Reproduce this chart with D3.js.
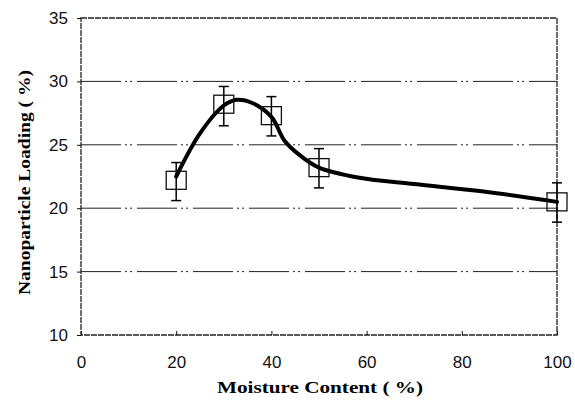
<!DOCTYPE html>
<html>
<head>
<meta charset="utf-8">
<script src="https://cdn.jsdelivr.net/npm/d3@7"></script>
<style>
body { margin: 0; background: #fff; }
</style>
</head>
<body>
<script>
var width = 575;
var height = 402;

// measured points with error bars
var moisture = [20, 30, 40, 50, 100];
var loading = [22.2, 28.2, 27.3, 23.2, 20.5];
var errLow = [20.6, 26.5, 25.7, 21.6, 18.9];
var errHigh = [23.6, 29.6, 28.8, 24.7, 22.0];

// smoothed curve
var curveX = [20, 25, 30, 32.7, 36, 40, 42.8, 45.9, 50, 58.5, 70, 85, 100];
var curveY = [22.5, 25.9, 28.1, 28.55, 28.3, 27.2, 25.3, 24.2, 23.2, 22.4, 21.9, 21.3, 20.5];

var xTicks = [0, 20, 40, 60, 80, 100];
var yTicks = [10, 15, 20, 25, 30, 35];

var margin = {left: 81, right: 18, top: 18, bottom: 67};

var x = d3.scaleLinear().domain([0, 100]).range([margin.left, width - margin.right]);
var y = d3.scaleLinear().domain([10, 35]).range([height - margin.bottom, margin.top]);

var svg = d3.select("body").append("svg")
    .attr("width", width)
    .attr("height", height);

// gridlines (dash-dot, scanned look)
svg.append("g").selectAll("line")
    .data(yTicks.slice(1, -1))
    .enter().append("line")
    .attr("x1", x(0)).attr("x2", x(100))
    .attr("y1", d => y(d)).attr("y2", d => y(d))
    .attr("stroke", "#222")
    .attr("stroke-width", 1)
    .attr("stroke-dasharray", "40,4,2,3,2,5");

// frame
svg.append("rect")
    .attr("x", x(0)).attr("y", y(35))
    .attr("width", x(100) - x(0)).attr("height", y(10) - y(35))
    .attr("fill", "none")
    .attr("stroke", "#222")
    .attr("stroke-width", 1.3)
    .attr("stroke-dasharray", "6,1");

var xAxis = d3.axisBottom(x).tickValues(xTicks).tickSize(4).tickSizeOuter(0);
var yAxis = d3.axisLeft(y).tickValues(yTicks).tickSize(4).tickSizeOuter(0);

var gx = svg.append("g")
    .attr("transform", "translate(0," + y(10) + ")")
    .call(xAxis);
gx.select(".domain").remove();
gx.selectAll("line").attr("stroke", "#111").attr("y1", -4).attr("y2", 0);
gx.selectAll("text")
    .attr("font-family", "Liberation Sans, Arial, sans-serif")
    .attr("font-size", 17)
    .attr("fill", "#111")
    .attr("y", 33)
    .attr("dy", null);

var gy = svg.append("g")
    .attr("transform", "translate(" + x(0) + ",0)")
    .call(yAxis);
gy.select(".domain").remove();
gy.selectAll("line").attr("stroke", "#111");
gy.selectAll("text")
    .attr("font-family", "Liberation Sans, Arial, sans-serif")
    .attr("font-size", 17)
    .attr("fill", "#111")
    .attr("x", -13);

// smooth curve
var line = d3.line()
    .x(d => x(d[0]))
    .y(d => y(d[1]))
    .curve(d3.curveCatmullRom.alpha(0.5));

svg.append("path")
    .datum(d3.zip(curveX, curveY))
    .attr("d", line)
    .attr("fill", "none")
    .attr("stroke", "#000")
    .attr("stroke-width", 4)
    .attr("stroke-linecap", "round");

// error bars
var pts = moisture.map(function(m, i) {
    return {x: m, y: loading[i], lo: errLow[i], hi: errHigh[i]};
});

var eb = svg.append("g").selectAll("g")
    .data(pts)
    .enter().append("g")
    .attr("stroke", "#000")
    .attr("stroke-width", 1.5);

eb.append("line")
    .attr("x1", d => x(d.x)).attr("x2", d => x(d.x))
    .attr("y1", d => y(d.hi)).attr("y2", d => y(d.lo));
eb.append("line")
    .attr("x1", d => x(d.x) - 5).attr("x2", d => x(d.x) + 5)
    .attr("y1", d => y(d.hi)).attr("y2", d => y(d.hi));
eb.append("line")
    .attr("x1", d => x(d.x) - 5).attr("x2", d => x(d.x) + 5)
    .attr("y1", d => y(d.lo)).attr("y2", d => y(d.lo));

// square markers
svg.append("g").selectAll("rect")
    .data(pts)
    .enter().append("rect")
    .attr("x", d => x(d.x) - 10)
    .attr("y", d => y(d.y) - 9)
    .attr("width", 20)
    .attr("height", 18)
    .attr("fill", "none")
    .attr("stroke", "#111")
    .attr("stroke-width", 1.3);

// axis titles (stretched like the scan)
svg.append("text")
    .attr("x", 217)
    .attr("y", 393)
    .attr("textLength", 206)
    .attr("lengthAdjust", "spacingAndGlyphs")
    .attr("font-family", "Liberation Serif, Times New Roman, serif")
    .attr("font-weight", "bold")
    .attr("font-size", 16)
    .text("Moisture Content ( %)");

svg.append("text")
    .attr("transform", "translate(30,295) rotate(-90)")
    .attr("textLength", 225)
    .attr("lengthAdjust", "spacingAndGlyphs")
    .attr("font-family", "Liberation Serif, Times New Roman, serif")
    .attr("font-weight", "bold")
    .attr("font-size", 16)
    .text("Nanoparticle Loading ( %)");
</script>
</body>
</html>
